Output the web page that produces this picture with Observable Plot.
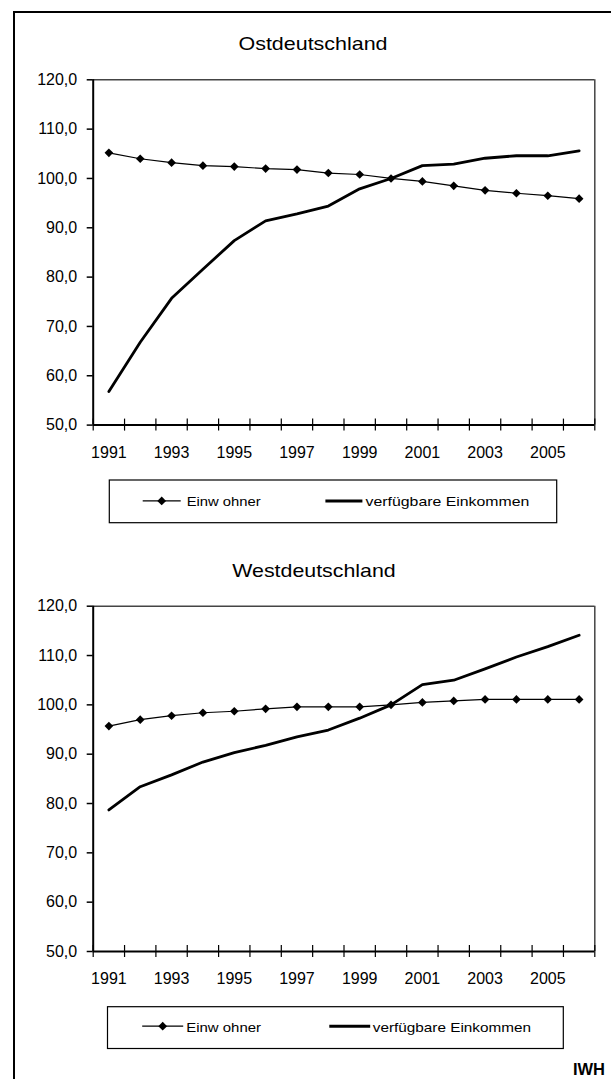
<!DOCTYPE html>
<html>
<head>
<meta charset="utf-8">
<script src="https://cdn.jsdelivr.net/npm/d3@7"></script>
<script src="https://cdn.jsdelivr.net/npm/@observablehq/plot@0.6"></script>
<style>
  html, body { margin: 0; padding: 0; background: #fff; overflow: hidden; width: 611px; height: 1079px; }
  #page { position: relative; width: 611px; height: 1079px; overflow: hidden; font-family: "Liberation Sans", Arial, sans-serif; }
  #frame { position: absolute; left: 13px; top: 11px; width: 800px; height: 1300px; border-left: 2.5px solid #000; border-top: 2px solid #000; box-sizing: border-box; }
  .chart { position: absolute; left: 0; }
  #overlay { position: absolute; left: 0; top: 0; }
</style>
</head>
<body>
<div id="page">
  <div id="frame"></div>
  <div id="ost" class="chart" style="top:60px"></div>
  <div id="west" class="chart" style="top:590px"></div>
  <svg id="overlay" width="611" height="1079"></svg>
</div>
<script>
// ---- data (index, 2000 = 100) ----
const years = [1991, 1992, 1993, 1994, 1995, 1996, 1997, 1998, 1999, 2000, 2001, 2002, 2003, 2004, 2005, 2006];
const ostEinwohner  = [105.2, 104.0, 103.2, 102.6, 102.4, 102.0, 101.8, 101.1, 100.8, 100.0, 99.4, 98.5, 97.6, 97.0, 96.5, 95.9];
const ostEinkommen  = [56.8, 66.8, 75.7, 81.6, 87.4, 91.4, 92.8, 94.4, 97.9, 100.0, 102.6, 102.9, 104.1, 104.6, 104.6, 105.6];
const westEinwohner = [95.7, 97.0, 97.8, 98.4, 98.7, 99.2, 99.6, 99.6, 99.6, 100.0, 100.5, 100.8, 101.1, 101.1, 101.1, 101.1];
const westEinkommen = [78.7, 83.4, 85.8, 88.4, 90.3, 91.8, 93.5, 94.9, 97.3, 100.0, 104.1, 105.0, 107.3, 109.7, 111.8, 114.1];
const yTicks = [50, 60, 70, 80, 90, 100, 110, 120];
const xTickLabels = [1991, 1993, 1995, 1997, 1999, 2001, 2003, 2005];
const titles = ["Ostdeutschland", "Westdeutschland"];
const seriesNames = ["Einw ohner", "verfügbare Einkommen"];
const sourceLabel = "IWH";

const font = "'Liberation Sans', Arial, sans-serif";
const xMin = years[0] - 0.5, xMax = years[years.length - 1] + 0.5;
const boundaries = years.map(y => y - 0.5).concat([xMax]);
const fmt = d => d3.format(".1f")(d).replace(".", ",");

function chart(einw, eink, height, marginTop, marginBottom) {
  const data = years.map((year, i) => ({year, einw: einw[i], eink: eink[i]}));
  return Plot.plot({
    width: 611, height, marginTop, marginBottom, marginLeft: 92.7, marginRight: 16.7,
    x: {domain: [xMin, xMax], axis: null},
    y: {domain: [yTicks[0], yTicks[yTicks.length - 1]], axis: null},
    style: {fontFamily: font, background: "transparent", overflow: "visible", color: "#000"},
    marks: [
      Plot.ruleY([yTicks[yTicks.length - 1]], {stroke: "#444", strokeWidth: 1.5}),
      Plot.ruleX([xMax], {stroke: "#444", strokeWidth: 1.5}),
      Plot.line(data, {x: "year", y: "eink", stroke: "#000", strokeWidth: 2.8}),
      Plot.line(data, {x: "year", y: "einw", stroke: "#000", strokeWidth: 1.2}),
      Plot.dot(data, {x: "year", y: "einw", symbol: "diamond2", r: 3.9, fill: "#000"}),
      Plot.ruleX(boundaries, {x: d => d, y1: () => yTicks[0], y2: () => yTicks[0], insetTop: -6, insetBottom: -6, stroke: "#000", strokeWidth: 1.2}),
      Plot.ruleY(yTicks, {y: d => d, x1: () => xMin, x2: () => xMin, insetLeft: -6, stroke: "#000", strokeWidth: 1.5}),
      Plot.ruleX([xMin], {stroke: "#000", strokeWidth: 2}),
      Plot.ruleY([yTicks[0]], {stroke: "#000", strokeWidth: 2}),
      Plot.text(yTicks, {x: () => xMin, y: d => d, text: fmt, dx: -16, textAnchor: "end", fontSize: 16, fill: "#000"}),
      Plot.text(xTickLabels, {x: d => d, y: () => yTicks[0], text: d => String(d), dy: 32.5, lineAnchor: "bottom", fontSize: 16, fill: "#000"})
    ]
  });
}

document.getElementById("ost").append(chart(ostEinwohner, ostEinkommen, 420, 19.3, 55.4));
document.getElementById("west").append(chart(westEinwohner, westEinkommen, 410, 15.7, 49));

// ---- overlay: titles, legends, source ----
const svg = d3.select("#overlay").style("font-family", font);

function title(text, cx, baseline, len) {
  svg.append("text").attr("x", cx - len / 2).attr("y", baseline)
    .attr("font-size", 18.5).attr("textLength", len).attr("lengthAdjust", "spacingAndGlyphs")
    .attr("fill", "#000").text(text);
}
title(titles[0], 313, 50.3, 149);
title(titles[1], 314, 577.3, 163.4);

function legend(L) {
  svg.append("rect").attr("x", L.x0).attr("y", L.y0).attr("width", L.x1 - L.x0).attr("height", L.y1 - L.y0)
    .attr("fill", "#fff").attr("stroke", "#000").attr("stroke-width", 1.2);
  // item 1: thin line with diamond
  svg.append("line").attr("x1", L.l1a).attr("x2", L.l1b).attr("y1", L.ly).attr("y2", L.ly)
    .attr("stroke", "#000").attr("stroke-width", 1.2);
  const cx = (L.l1a + L.l1b) / 2, h = 4.4;
  svg.append("path").attr("d", `M${cx},${L.ly - h}L${cx + h},${L.ly}L${cx},${L.ly + h}L${cx - h},${L.ly}Z`).attr("fill", "#000");
  svg.append("text").attr("x", L.t1).attr("y", L.tb).attr("font-size", 13)
    .attr("textLength", L.t1w).attr("lengthAdjust", "spacingAndGlyphs").attr("fill", "#000").text(seriesNames[0]);
  // item 2: thick line
  svg.append("line").attr("x1", L.l2a).attr("x2", L.l2b).attr("y1", L.ly).attr("y2", L.ly)
    .attr("stroke", "#000").attr("stroke-width", 3);
  svg.append("text").attr("x", L.t2).attr("y", L.tb).attr("font-size", 13)
    .attr("textLength", L.t2w).attr("lengthAdjust", "spacingAndGlyphs").attr("fill", "#000").text(seriesNames[1]);
}
legend({x0: 109.3, x1: 556.7, y0: 480, y1: 522.7, ly: 500.9, tb: 506, l1a: 142.7, l1b: 180.7, t1: 186.7, t1w: 74, l2a: 325.4, l2b: 362.4, t2: 365.6, t2w: 163.7});
legend({x0: 107.5, x1: 563.3, y0: 1006.7, y1: 1048.5, ly: 1026.2, tb: 1031.5, l1a: 142.2, l1b: 183.2, t1: 186.3, t1w: 74.7, l2a: 329.3, l2b: 370.2, t2: 372.8, t2w: 158.2});

svg.append("text").attr("x", 605).attr("y", 1074.5).attr("text-anchor", "end")
  .attr("font-size", 16.5).attr("font-weight", "bold").attr("fill", "#000").text(sourceLabel);
</script>
</body>
</html>
